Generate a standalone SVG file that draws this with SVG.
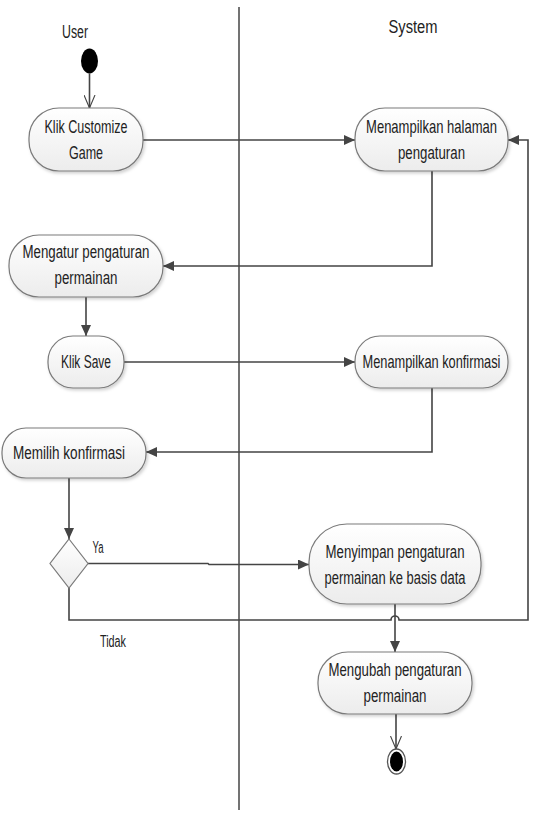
<svg xmlns="http://www.w3.org/2000/svg" width="533" height="815" viewBox="0 0 533 815">
<style>
.node{fill:url(#ng);stroke:#7a7a7a;stroke-width:1.2;filter:url(#sh)}
.t{font-family:"Liberation Sans",Arial,sans-serif;font-size:17.5px;fill:#222;text-anchor:middle}
.lbl{font-family:"Liberation Sans",Arial,sans-serif;font-size:16px;fill:#222;text-anchor:middle}
.c{fill:none;stroke:#444;stroke-width:1.6}
.lane{stroke:#444;stroke-width:1.5}
</style>
<defs>
<linearGradient id="ng" x1="0" y1="0" x2="0" y2="1">
<stop offset="0" stop-color="#ffffff"/>
<stop offset="1" stop-color="#ececec"/>
</linearGradient>
<filter id="sh" x="-10%" y="-10%" width="125%" height="130%">
<feDropShadow dx="1.5" dy="2" stdDeviation="1.5" flood-color="#000" flood-opacity="0.18"/>
</filter>
<marker id="af" markerUnits="userSpaceOnUse" markerWidth="12" markerHeight="10" refX="11" refY="5" orient="auto">
<path d="M0,0 L11,5 L0,10 Z" fill="#444"/>
</marker>
<marker id="ao" markerUnits="userSpaceOnUse" markerWidth="14" markerHeight="12" refX="13" refY="6" orient="auto">
<path d="M0,0.5 L13,6 L0,11.5" fill="none" stroke="#444" stroke-width="1.1"/>
</marker>
</defs>
<rect width="533" height="815" fill="#fff"/>
<g id="lanes">
<line class="lane" x1="239" y1="7" x2="239" y2="810"/>
<text class="lbl" x="75" y="38" style="font-size:18px" textLength="26" lengthAdjust="spacingAndGlyphs">User</text>
<text class="lbl" x="413" y="33" style="font-size:18px" textLength="49" lengthAdjust="spacingAndGlyphs">System</text>
</g>
<g id="connectors">
<path class="c" d="M89.5 73.5 V108" marker-end="url(#ao)"/>
<path class="c" d="M143 140 H355" marker-end="url(#af)"/>
<path class="c" d="M432 171 V266 H163" marker-end="url(#af)"/>
<path class="c" d="M86 297 V336" marker-end="url(#af)"/>
<path class="c" d="M124 362 H355" marker-end="url(#af)"/>
<path class="c" d="M432 388 V452 H146" marker-end="url(#af)"/>
<path class="c" d="M69 478 V539" marker-end="url(#af)"/>
<path class="c" d="M88 563.5 H208 L209 564.5 H309" marker-end="url(#af)"/>
<path class="c" d="M69 588 V620 H391 A4 4 0 0 1 399 620 H528 V140 H508" marker-end="url(#af)"/>
<path class="c" d="M395 604 V652" marker-end="url(#af)"/>
<path class="c" d="M396 714 V749" marker-end="url(#ao)"/>
<text class="lbl" x="98" y="553" textLength="11" lengthAdjust="spacingAndGlyphs">Ya</text>
<text class="lbl" x="113" y="647" textLength="26" lengthAdjust="spacingAndGlyphs">Tidak</text>
</g>
<g id="start">
<ellipse cx="89.5" cy="61" rx="8.5" ry="12.5" fill="#000"/>
</g>
<g id="klik-customize">
<rect class="node" x="29" y="108" width="114" height="63" rx="30" ry="30"/>
<text class="t" x="86" y="133" textLength="83" lengthAdjust="spacingAndGlyphs">Klik Customize</text>
<text class="t" x="86" y="159" textLength="34" lengthAdjust="spacingAndGlyphs">Game</text>
</g>
<g id="menampilkan-halaman">
<rect class="node" x="355" y="108" width="153" height="63" rx="30" ry="30"/>
<text class="t" transform="translate(431.5 133) scale(0.7 1)" x="0" y="0" textLength="187" lengthAdjust="spacingAndGlyphs">Menampilkan halaman</text>
<text class="t" x="431.5" y="159" textLength="67" lengthAdjust="spacingAndGlyphs">pengaturan</text>
</g>
<g id="mengatur">
<rect class="node" x="9" y="235" width="154" height="62" rx="30" ry="30"/>
<text class="t" x="86" y="258" textLength="127" lengthAdjust="spacingAndGlyphs">Mengatur pengaturan</text>
<text class="t" x="86" y="284" textLength="63" lengthAdjust="spacingAndGlyphs">permainan</text>
</g>
<g id="klik-save">
<rect class="node" x="48" y="336" width="76" height="52" rx="25" ry="25"/>
<text class="t" x="86" y="368" textLength="50" lengthAdjust="spacingAndGlyphs">Klik Save</text>
</g>
<g id="menampilkan-konfirmasi">
<rect class="node" x="355" y="336" width="153" height="52" rx="25" ry="25"/>
<text class="t" transform="translate(431.5 368) scale(0.7 1)" x="0" y="0" textLength="197" lengthAdjust="spacingAndGlyphs">Menampilkan konfirmasi</text>
</g>
<g id="memilih-konfirmasi">
<rect class="node" x="2" y="428" width="144" height="50" rx="24" ry="24"/>
<text class="t" x="69" y="459" textLength="112" lengthAdjust="spacingAndGlyphs">Memilih konfirmasi</text>
</g>
<g id="decision">
<path d="M69 539 L88 563.5 L69 588 L50 563.5 Z" fill="url(#ng)" stroke="#7a7a7a" stroke-width="1.2"/>
</g>
<g id="menyimpan">
<rect class="node" x="309" y="524" width="172" height="80" rx="38" ry="38"/>
<text class="t" x="395" y="558" textLength="139" lengthAdjust="spacingAndGlyphs">Menyimpan pengaturan</text>
<text class="t" x="395" y="584" textLength="141" lengthAdjust="spacingAndGlyphs">permainan ke basis data</text>
</g>
<g id="mengubah">
<rect class="node" x="318" y="652" width="154" height="62" rx="30" ry="30"/>
<text class="t" x="395" y="676" textLength="133" lengthAdjust="spacingAndGlyphs">Mengubah pengaturan</text>
<text class="t" x="395" y="702" textLength="63" lengthAdjust="spacingAndGlyphs">permainan</text>
</g>
<g id="end">
<ellipse cx="396.5" cy="761.5" rx="9" ry="12.5" fill="#fff" stroke="#555" stroke-width="1.3"/>
<ellipse cx="396.5" cy="761.5" rx="6.5" ry="10" fill="#000"/>
</g>
</svg>
